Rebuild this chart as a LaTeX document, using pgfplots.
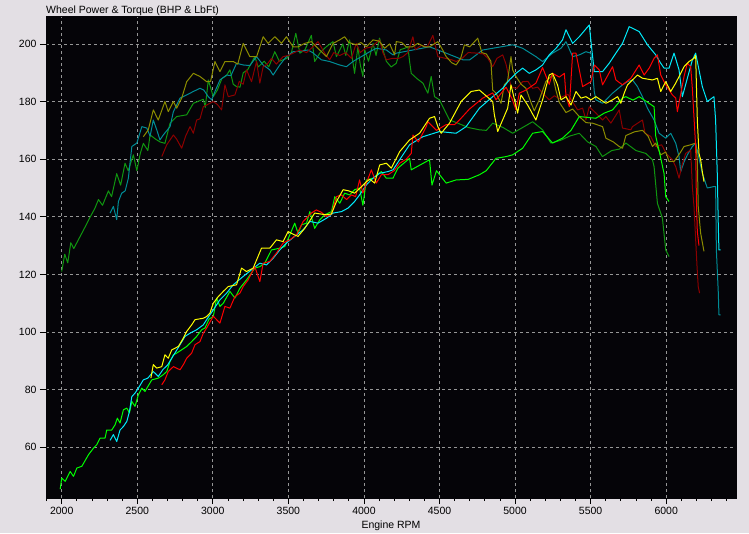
\documentclass[border=0pt]{standalone}
\usepackage{fontspec}
\setmainfont{Liberation Sans}
\usepackage{pgfplots}
\pgfplotsset{compat=1.18}
\definecolor{bg}{RGB}{227,223,228}
\definecolor{plotbg}{RGB}{5,4,8}
\definecolor{cG}{RGB}{0,255,0}
\definecolor{cC}{RGB}{0,235,250}
\definecolor{cR}{RGB}{255,0,0}
\definecolor{cY}{RGB}{255,255,0}
\definecolor{dG}{RGB}{16,150,16}
\definecolor{dC}{RGB}{0,140,150}
\definecolor{dR}{RGB}{140,0,0}
\definecolor{dY}{RGB}{140,140,0}
\definecolor{gridc}{RGB}{150,150,150}
\begin{document}
\begin{tikzpicture}[x=1pt,y=1pt]
\useasboundingbox (0,0) rectangle (749,533);
\fill[bg] (0,0) rectangle (749,533);
\begin{axis}[
 at={(46pt,35pt)}, anchor=south west,
 width=690pt, height=482pt, scale only axis,
 xmin=1896, xmax=6462, ymin=42.4, ymax=209.7,
 axis background/.style={fill=plotbg},
 axis line style={draw=plotbg},
 xtick={2000,2500,...,6000}, minor xtick={1900,2000,...,6400},
 ytick={60,80,...,200},
 tick align=outside, xtick pos=left, ytick pos=left,
 major tick length=6pt, minor tick length=3pt,
 tick style={black, line width=0.8pt},
 grid=major, major grid style={gridc, dash pattern=on 3pt off 3pt, line width=0.8pt},
 tick label style={font=\fontsize{10.5}{12}\selectfont},
 /pgf/number format/assume math mode=true,
 /pgf/number format/1000 sep={},
 scaled x ticks=false,
 every axis plot/.append style={line width=1pt, mark=none, line join=round},
]
% ---- torque (dark) ----
\addplot[dG] coordinates {
(2000,121) (2020,127) (2040,124) (2060,131) (2080,129) (2100,131) (2130,134) (2160,137) (2189,140) (2220,143) (2243,146) (2270,144) (2309,149) (2330,147) (2364,155) (2390,151) (2419,158.6) (2440,156) (2474,161.5) (2497,156) (2520,162) (2540,165.5) (2570,163) (2585,168.4) (2620,167) (2650,166) (2683,165.5) (2717,172.5) (2761,174.8) (2827,175.4) (2871,179.4) (2937,180.8) (2950,178) (2970,187.5) (3003,181.7) (3030,184) (3060,188) (3090,189) (3113,191) (3135,186) (3157,185.2) (3180,185) (3201,190) (3230,191) (3278,195.6) (3300,192) (3340,194) (3370,192) (3410,197.3) (3440,194) (3490,195) (3520,197) (3549,203.7) (3576,196.8) (3610,198) (3652,203) (3674,193.9) (3710,197) (3750,199) (3795,200.8) (3818,195.6) (3860,200) (3880,196) (3905,201.4) (3938,189.8) (3960,199) (3975,193) (3993,188.7) (4005,198) (4030,194) (4060,200.2) (4080,196) (4103,202) (4148,194) (4180,192) (4214,193.3) (4240,198) (4270,198.5) (4291,199) (4302,193.9) (4313,189.8) (4350,188) (4390,186.4) (4423,182.9) (4445,188.7) (4467,181.7) (4500,180.6) (4522,178.2) (4566,173.6) (4621,172.5) (4690,171) (4764,170.2) (4810,170) (4852,172.5) (4920,171) (4984,169) (5050,171) (5116,173) (5182,170.2) (5237,165.6) (5300,166.5) (5360,168) (5425,169) (5480,166) (5535,164.4) (5578,160.9) (5640,163) (5690,163.5) (5733,165.6) (5800,163) (5865,162) (5909,159.8) (5920,157.4) (5942,144.7) (5975,139.5) (5997,128.5) (6019,126.2)
};
\addplot[dC] coordinates {
(2320,141.3) (2342,143.6) (2364,139) (2375,145.3) (2397,148.2) (2420,149) (2441,153.4) (2464,164.4) (2497,165.6) (2530,171.3) (2563,170.8) (2585,168) (2606,173.6) (2630,170) (2650,166.7) (2672,168.4) (2717,171.3) (2739,176.5) (2783,181.2) (2827,182.3) (2871,183.5) (2915,184.6) (2940,184) (2970,181.7) (2992,180.6) (3014,183.5) (3047,187.5) (3091,189.2) (3120,189) (3157,193.3) (3201,192.7) (3245,192.5) (3289,195.6) (3333,192.7) (3377,191) (3399,189.2) (3443,192.7) (3487,195.6) (3531,197.3) (3580,197.5) (3630,197.9) (3660,197) (3718,194.5) (3773,193.9) (3839,192.7) (3884,192.1) (3927,193.9) (3983,195.6) (4038,197.3) (4082,198.5) (4148,197.9) (4192,196.2) (4214,196.8) (4324,197.9) (4434,199) (4544,196.8) (4654,194.5) (4700,194.5) (4786,197.9) (4852,198.5) (4984,199.7) (5050,198.5) (5138,195.6) (5182,193.9) (5248,196.8) (5304,198.5) (5337,200.8) (5381,195.6) (5425,196.2) (5469,197.3) (5502,196.8) (5524,183.5) (5535,180.6) (5579,179.4) (5645,182.9) (5711,185.8) (5744,186.9) (5777,187.5) (5810,185.2) (5843,181.7) (5876,177.7) (5920,173.6) (5953,169) (5997,167.3) (6030,169) (6063,165.6) (6085,160.9) (6096,155.7) (6118,159) (6140,161.5) (6173,164.4) (6195,165.6) (6239,155.1) (6272,150) (6316,150.5) (6327,150.5) (6332,128.5) (6345,113.5) (6349,106) (6360,106)
};
\addplot[dR] coordinates {
(2662,160.9) (2695,165) (2739,168.4) (2760,167) (2794,163.8) (2820,168) (2849,171.3) (2871,169) (2893,173.6) (2915,174) (2937,178.2) (2959,178.8) (2981,179.4) (3003,180) (3030,179) (3058,177.1) (3080,185.8) (3102,181.7) (3146,182.3) (3175,187) (3201,186) (3223,191) (3256,186.9) (3289,193.9) (3311,186.4) (3333,192.1) (3360,193) (3388,195) (3420,193) (3465,195.6) (3500,196) (3531,196.8) (3576,197.9) (3620,197) (3652,198.5) (3696,200.8) (3740,196.8) (3773,194.5) (3800,197) (3840,196) (3880,197) (3917,195) (3949,200.2) (3975,197) (4010,198.5) (4050,199) (4104,201.4) (4125,197) (4148,194.5) (4190,195) (4230,195) (4258,195.6) (4290,197) (4324,202.5) (4340,198) (4380,199.5) (4420,199) (4456,203) (4489,195.6) (4540,195) (4580,194.5) (4610,193.9) (4650,195) (4690,197) (4753,196.8) (4790,196.5) (4820,195) (4852,192.1) (4880,195) (4918,196.2) (4940,193) (4973,185.2) (5010,184.5) (5050,186.9) (5085,187) (5116,184.6) (5150,185) (5182,182.9) (5226,180.6) (5260,182) (5293,181) (5314,181.7) (5350,182.5) (5380,180) (5414,177.1) (5447,177.7) (5469,173.6) (5491,178.2) (5535,176) (5579,173.6) (5601,174.8) (5634,172.5) (5689,177.1) (5711,170.8) (5766,170.2) (5777,171.3) (5843,173.6) (5860,169) (5898,167.9) (5931,164.4) (5970,165) (6000,162) (6041,159.8) (6063,157.4) (6085,153.4) (6105,158) (6129,162) (6162,163.2) (6173,150.5) (6184,143.6) (6204,122.8) (6212,115.8) (6221,113.5)
};
\addplot[dY] coordinates {
(2540,167.8) (2573,170.2) (2606,177.1) (2639,173.6) (2683,180) (2705,176.5) (2739,180) (2761,177.7) (2794,181.2) (2827,186.9) (2871,189.8) (2915,188.7) (2959,186.9) (2985,187) (3014,193.9) (3047,190.4) (3080,193.9) (3135,193.9) (3165,193) (3201,200.2) (3245,195.6) (3290,195.6) (3333,202.5) (3366,200.2) (3410,202.5) (3454,200.2) (3487,202.5) (3531,199) (3564,199) (3608,200.2) (3652,200.8) (3707,197.9) (3752,195.6) (3796,200.2) (3839,201.4) (3872,202.5) (3900,200.5) (3949,199.7) (3980,200.5) (4016,199) (4060,201.4) (4100,201) (4137,198.5) (4170,200) (4203,196.2) (4214,200.8) (4250,200.5) (4280,199) (4320,199) (4357,200.2) (4400,199) (4434,199) (4489,200.8) (4520,198) (4544,195.6) (4580,193.5) (4610,192.7) (4640,195) (4665,199.7) (4700,199) (4753,202) (4780,197) (4810,196.5) (4840,194) (4852,184) (4874,182.9) (4907,179.4) (4929,185.8) (4950,187) (4973,195.6) (4984,191) (5006,188.7) (5040,186) (5072,184.6) (5105,179.7) (5127,176.8) (5160,180.6) (5204,187) (5248,189.2) (5270,184) (5293,179.7) (5337,176.2) (5381,177.4) (5425,174.8) (5469,172.7) (5513,172.5) (5579,171.3) (5601,167.3) (5650,166) (5689,164.4) (5711,163.8) (5733,168.2) (5790,169.5) (5843,170) (5880,168) (5909,164.4) (5931,165.6) (5964,161.5) (5997,162.5) (6019,159.2) (6052,159.2) (6090,162) (6118,164.4) (6162,165) (6195,165.6) (6206,159.8) (6212,143.6) (6228,134.3) (6250,128)
};
% ---- power (bright) ----
\addplot[cG] coordinates {
(1990,45.5) (2000,49.3) (2023,48.2) (2056,51.6) (2078,49.9) (2100,52.8) (2133,53.4) (2177,57.4) (2210,59.7) (2232,60.9) (2254,63.2) (2287,63.2) (2298,66) (2331,66) (2353,67.8) (2368,70.1) (2386,68.4) (2408,73) (2431,73.6) (2448,71.9) (2464,75.9) (2485,74.2) (2507,78.2) (2530,80.5) (2551,79.4) (2596,83.4) (2639,84) (2672,85.2) (2695,86.3) (2717,89.8) (2739,92.1) (2761,92.7) (2827,95) (2860,96.7) (2893,98.5) (2926,100.8) (2948,101.4) (2975,104.5) (3003,105.4) (3025,111.8) (3047,108.9) (3069,110) (3113,114.1) (3146,111.8) (3179,115.2) (3223,118.1) (3278,122.2) (3311,122.7) (3344,123.9) (3388,128.5) (3443,129.1) (3476,129.7) (3509,133.7) (3542,137.8) (3564,134.3) (3587,137.2) (3620,137.8) (3642,141.8) (3674,136) (3707,138.9) (3740,140.7) (3785,141.8) (3807,147) (3840,144.7) (3872,148.2) (3905,147.6) (3938,149.4) (3971,150) (3993,144) (4016,152.8) (4060,153.4) (4115,155.7) (4148,153.4) (4192,153.4) (4225,156.9) (4302,160.3) (4313,156.3) (4434,159.8) (4450,151) (4480,156) (4544,151.7) (4610,152.8) (4690,153) (4764,154.6) (4809,156) (4874,160.3) (4940,160.9) (4984,161.5) (5050,163.8) (5116,169) (5182,169.6) (5248,165.6) (5314,167.3) (5370,170) (5425,174.8) (5480,174.5) (5535,174.2) (5590,176) (5645,177.1) (5711,181.2) (5733,181.7) (5780,180.5) (5821,181.7) (5870,180) (5920,178.2) (5931,167.9) (5953,163) (5986,155) (5997,147) (6019,145.3)
};
\addplot[cC] coordinates {
(2320,62.4) (2342,64.4) (2364,62) (2386,66) (2408,67.2) (2431,69) (2448,72.4) (2464,77.6) (2485,78.8) (2507,80.5) (2540,83.4) (2570,84) (2606,86.3) (2639,84.6) (2670,87) (2700,88.5) (2728,90.9) (2770,94.5) (2816,98.5) (2849,99.6) (2893,100.8) (2937,102.5) (2959,104.3) (3003,107.7) (3047,111.2) (3091,113.5) (3135,116.4) (3201,119.3) (3256,121.6) (3311,123.9) (3355,123.3) (3399,125.6) (3443,128.5) (3498,131.4) (3553,133.7) (3598,135.5) (3642,138.4) (3696,137.8) (3752,139.5) (3796,141.3) (3851,141.8) (3894,143) (3938,145.3) (3971,147.6) (4016,151.1) (4060,153.4) (4104,155.1) (4159,155.7) (4192,156.3) (4236,159.8) (4302,165) (4390,167.8) (4500,169.6) (4610,169) (4676,171.3) (4764,177.7) (4852,181.7) (4918,184.6) (4962,187.5) (5006,189.8) (5050,191.6) (5094,189.8) (5138,191) (5182,192.7) (5226,196.2) (5271,198.5) (5314,201.4) (5337,204.9) (5381,200.2) (5425,202.5) (5491,206.6) (5502,201) (5524,190.4) (5579,190.4) (5623,193.3) (5667,196.8) (5711,200.2) (5755,206) (5821,204.3) (5876,199.7) (5931,196.2) (5964,193.3) (5986,191.6) (6019,191.6) (6052,196.8) (6085,191) (6107,181.7) (6140,188.1) (6173,194.4) (6195,196.8) (6217,191) (6239,185.2) (6272,180) (6316,181.7) (6327,173.6) (6338,155.1) (6345,136.6) (6349,128.5) (6360,128.5)
};
\addplot[cR] coordinates {
(2662,81.7) (2683,83.4) (2705,86.3) (2739,88) (2783,86.9) (2805,88.7) (2827,90.9) (2860,92.7) (2882,95.6) (2915,96.7) (2937,99.6) (2959,101.4) (3003,105.5) (3047,103.1) (3080,108.9) (3113,108.3) (3146,112.3) (3179,113.5) (3201,115.8) (3234,118.1) (3278,122.7) (3311,117.5) (3333,123.9) (3377,124.5) (3421,127.4) (3465,130.9) (3509,132) (3553,133.7) (3598,138.4) (3652,141.3) (3685,142.4) (3720,141.5) (3752,140) (3785,141) (3818,147) (3851,147.6) (3885,146) (3917,147.6) (3945,147) (3971,152.8) (3993,148.2) (4016,151.7) (4049,156.3) (4082,151.7) (4115,154.6) (4159,154.6) (4200,156) (4236,158.6) (4280,160) (4313,162) (4324,168.4) (4360,166) (4412,171.3) (4423,173) (4480,170) (4544,172) (4600,172) (4632,173.6) (4698,177.4) (4786,181.2) (4852,183) (4874,180.6) (4940,185) (4980,181) (5006,177.1) (5028,182.9) (5072,184) (5138,186.4) (5182,191.8) (5226,186) (5248,189.8) (5293,188.5) (5326,189.8) (5337,182) (5359,178.2) (5381,196.8) (5403,196.8) (5425,191) (5447,185.2) (5502,186.9) (5524,192.7) (5557,191) (5579,185.8) (5645,192.1) (5667,187.5) (5711,185.8) (5766,188.1) (5821,192.7) (5854,189.2) (5887,191.6) (5920,195) (5942,196.2) (5964,189.2) (5997,185.8) (6041,182.3) (6063,181.2) (6074,176.5) (6118,188.7) (6140,193.3) (6162,192.1) (6173,184.6) (6195,164.4) (6200,145.9) (6206,134.9) (6217,130)
};
\addplot[cY] coordinates {
(2590,84) (2606,88.7) (2629,87.5) (2662,88) (2683,92.1) (2705,90.9) (2728,93.8) (2772,95) (2805,97.9) (2827,100.2) (2860,102.5) (2882,104.3) (2937,104.8) (2959,105.4) (2981,106.6) (3003,110) (3036,112.3) (3069,114.1) (3102,115.8) (3157,116.4) (3190,122.2) (3223,121) (3267,122.2) (3322,129.1) (3377,129.1) (3421,132) (3465,131.4) (3498,134.9) (3530,134) (3564,133.2) (3608,136) (3640,138.5) (3674,141.3) (3710,141) (3752,140.7) (3785,141) (3818,145.3) (3862,149.4) (3900,149) (3938,148.2) (3975,150) (4016,152.2) (4040,153) (4071,151.7) (4104,158) (4148,158.6) (4181,156.9) (4214,160.3) (4236,162.6) (4302,166.7) (4368,169) (4434,174.2) (4467,174.8) (4489,171.3) (4511,169) (4566,172.5) (4643,180) (4709,183.5) (4764,184) (4852,180) (4863,175.4) (4885,169.6) (4951,177.7) (4973,185.8) (5017,176) (5039,182.3) (5083,178.8) (5138,173.6) (5182,180.6) (5226,189.2) (5248,189.8) (5281,185.8) (5304,180.6) (5337,181.7) (5370,178.8) (5403,183.5) (5436,181.2) (5469,181.7) (5502,180.6) (5535,181.7) (5601,179.4) (5645,180.6) (5678,181.7) (5700,179.4) (5722,182.9) (5744,185.8) (5777,187.5) (5810,189.2) (5843,188.1) (5909,187.5) (5942,188.1) (5964,183.5) (5997,186.9) (6030,183.5) (6063,186.4) (6096,189.8) (6118,192.1) (6151,193.9) (6184,195) (6195,196) (6206,173.6) (6217,162) (6228,159.8) (6239,155.7) (6250,152.2)
};
\end{axis}
\node[anchor=base west, font=\fontsize{10.5}{12}\selectfont, inner sep=0pt] at (46,519) {Wheel Power \& Torque (BHP \& LbFt)};
\node[anchor=base, font=\fontsize{10.5}{12}\selectfont, inner sep=0pt] at (391,5) {Engine RPM};
\end{tikzpicture}
\end{document}
